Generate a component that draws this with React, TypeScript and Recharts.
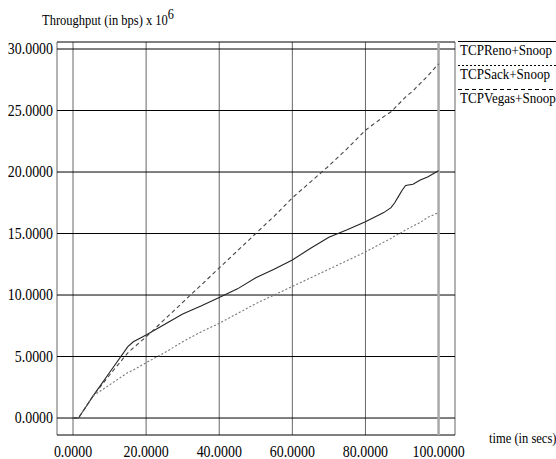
import { LineChart, Line, XAxis, YAxis, CartesianGrid, ReferenceLine, Legend } from 'recharts'

const times = [0, 1.5, 3.5, 5.5, 10, 15, 16.5, 20, 25, 30, 35, 40, 45, 50, 55, 60, 65, 70, 75, 80, 85, 87, 88, 89, 90, 91, 93, 95, 97, 100]
const renoValues = [0, 0, 0.9, 1.8, 3.7, 5.8, 6.2, 6.75, 7.6, 8.45, 9.1, 9.8, 10.5, 11.4, 12.1, 12.85, 13.8, 14.7, 15.3, 15.96, 16.7, 17.1, 17.5, 18.0, 18.5, 18.9, 19.0, 19.35, 19.6, 20.1]
const sackValues = [0, 0, 0.9, 1.8, 2.7, 3.7, 3.9, 4.5, 5.3, 6.2, 7.0, 7.7, 8.5, 9.3, 10.0, 10.7, 11.4, 12.1, 12.8, 13.5, 14.3, 14.6, 14.8, 14.95, 15.1, 15.3, 15.6, 15.9, 16.3, 16.7]
const vegasValues = [0, 0, 0.9, 1.8, 3.5, 5.3, 5.7, 6.6, 8.0, 9.4, 10.8, 12.2, 13.6, 15.0, 16.4, 17.9, 19.2, 20.5, 21.9, 23.4, 24.5, 24.9, 25.2, 25.5, 25.8, 26.1, 26.6, 27.2, 27.8, 28.8]

const xTicks = [0, 20, 40, 60, 80, 100]
const yTicks = [0, 5, 10, 15, 20, 25, 30]

const FONT = 'Liberation Serif, serif'
// the original uses a narrow Times, so glyphs are squeezed horizontally
const SQUEEZE = 0.87
const tickTxt = { fontFamily: FONT, fontSize: 16 }
const smallTxt = { fontFamily: FONT, fontSize: 14.4 }
const legendTxt = { fontFamily: FONT, fontSize: 15 }

const data = times.map((t, i) => ({
  time: t,
  reno: renoValues[i],
  sack: sackValues[i],
  vegas: vegasValues[i],
}))

const series = [
  { key: 'reno', name: 'TCPReno+Snoop', stroke: '#222', dash: undefined },
  { key: 'sack', name: 'TCPSack+Snoop', stroke: '#777', dash: '2 2' },
  { key: 'vegas', name: 'TCPVegas+Snoop', stroke: '#444', dash: '4 3' },
]

const at = (x: number, y: number) => `translate(${x},${y}) scale(${SQUEEZE},1)`

function renderLegend() {
  return (
    <div>
      {series.map((s) => (
        <svg key={s.key} width={98} height={24} style={{ display: 'block' }}>
          <line x1={0} x2={98} y1={0.5} y2={0.5} stroke="#000" strokeDasharray={s.dash} />
          <text transform={at(2, 14)} fill="#000" style={legendTxt}>
            {s.name}
          </text>
        </svg>
      ))}
    </div>
  )
}

const XTick = ({ x, payload }: any) => (
  <text transform={at(x, 457)} textAnchor="middle" fill="#000" style={tickTxt}>
    {payload.value.toFixed(4)}
  </text>
)

const YTick = ({ y, payload }: any) => (
  <text transform={at(53, y + 5)} textAnchor="end" fill="#000" style={tickTxt}>
    {payload.value.toFixed(4)}
  </text>
)

export default function App() {
  return (
    <div style={{ position: 'absolute', left: 0, top: 0, background: '#fff', fontFamily: FONT }}>
      <LineChart width={556} height={459} data={data} margin={{ top: 42, right: 101, bottom: 0, left: 0 }}>
        <CartesianGrid horizontal={false} stroke="#666" strokeWidth={1} />
        <CartesianGrid vertical={false} stroke="#000" strokeWidth={1} />
        <ReferenceLine x={100} stroke="#aaa" strokeWidth={2.5} />
        <XAxis
          type="number"
          dataKey="time"
          domain={[-4.38, 104.5]}
          ticks={xTicks}
          tick={<XTick />}
          axisLine={false}
          tickLine={false}
          height={24}
          allowDataOverflow
          label={{
            content: ({ viewBox }: any) => (
              <text transform={at(viewBox.x + viewBox.width + 34, 443)} fill="#000" style={smallTxt}>
                time (in secs)
              </text>
            ),
          }}
        />
        <YAxis
          type="number"
          domain={[-1.38, 30.57]}
          ticks={yTicks}
          tick={<YTick />}
          axisLine={false}
          tickLine={false}
          width={57}
          allowDataOverflow
          label={{
            content: () => (
              <text transform={at(42, 25)} fill="#000" style={smallTxt}>
                Throughput (in bps) x 10
                <tspan dy={-6} fontSize={14}>6</tspan>
              </text>
            ),
          }}
        />
        <Legend
          layout="horizontal"
          verticalAlign="middle"
          align="center"
          content={renderLegend}
          wrapperStyle={{ top: 41, left: 458, width: 98 }}
        />
        {series.map((s) => (
          <Line
            key={s.key}
            type="linear"
            dataKey={s.key}
            name={s.name}
            stroke={s.stroke}
            strokeWidth={1.1}
            strokeDasharray={s.dash}
            dot={false}
            isAnimationActive={false}
          />
        ))}
      </LineChart>
    </div>
  )
}
